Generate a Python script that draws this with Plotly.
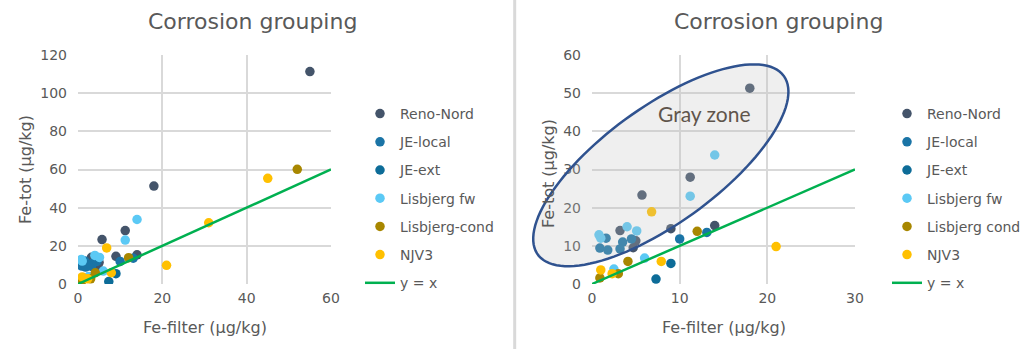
import numpy as np
import plotly.graph_objects as go

# ---------------- data ----------------
series_names = ["Reno-Nord", "JE-local", "JE-ext", "Lisbjerg fw", "Lisbjerg-cond", "NJV3"]
series_names_right = ["Reno-Nord", "JE-local", "JE-ext", "Lisbjerg fw", "Lisbjerg cond", "NJV3"]

reno_x = [55.0, 18.0, 5.7, 11.2, 3.2, 9.0, 14.0, 5.0, 4.7]
reno_y = [111.3, 51.3, 23.3, 28.0, 14.0, 14.5, 15.3, 11.3, 9.5]

je_local_x = [1.6, 0.9, 1.8, 3.5, 3.2, 4.5, 10.0, 13.1]
je_local_y = [12.0, 9.4, 8.9, 11.0, 9.2, 11.8, 11.8, 13.5]

je_ext_x = [7.3, 9.0]
je_ext_y = [1.3, 5.4]

lisb_fw_x = [0.8, 1.0, 4.0, 5.1, 2.5, 6.0, 11.2, 14.0]
lisb_fw_y = [12.9, 12.0, 15.0, 13.9, 3.9, 6.8, 23.0, 33.8]

lisb_cond_x = [0.9, 3.0, 4.1, 12.0, 52.0]
lisb_cond_y = [1.6, 2.7, 5.9, 13.8, 60.1]

njv3_x = [1.0, 2.3, 6.8, 7.9, 21.0, 31.0, 45.0]
njv3_y = [3.7, 2.7, 18.9, 5.9, 9.8, 32.1, 55.4]

line_left_x = [0, 60]
line_left_y = [0, 60]
line_right_x = [0, 30]
line_right_y = [0, 30]

left_xticks = [0, 20, 40, 60]
left_yticks = [0, 20, 40, 60, 80, 100, 120]
right_xticks = [0, 10, 20, 30]
right_yticks = [0, 10, 20, 30, 40, 50, 60]

colors = ["#44546A", "#1A74A6", "#0D6C98", "#5BC9F5", "#A88700", "#FFC000"]
line_color = "#00B050"

# ---------------- layout geometry ----------------
W, H = 1024, 349
L_X0, L_X1 = 78, 331
R_X0, R_X1 = 592, 855
P_TOP, P_BOT = 55, 284

FONT = "DejaVu Sans"
TXT = "#595959"
GRID = "#D9D9D9"

all_x = [reno_x, je_local_x, je_ext_x, lisb_fw_x, lisb_cond_x, njv3_x]
all_y = [reno_y, je_local_y, je_ext_y, lisb_fw_y, lisb_cond_y, njv3_y]

fig = go.Figure()

for i in range(6):
    fig.add_trace(go.Scatter(
        x=all_x[i], y=all_y[i], mode="markers", name=series_names[i],
        marker=dict(color=colors[i], size=9.5), xaxis="x", yaxis="y",
        legend="legend", legendgroup="L%d" % i))
fig.add_trace(go.Scatter(
    x=line_left_x, y=line_left_y, mode="lines", name="y = x",
    line=dict(color=line_color, width=2.5), xaxis="x", yaxis="y",
    legend="legend", legendgroup="L6"))

for i in range(6):
    fig.add_trace(go.Scatter(
        x=all_x[i], y=all_y[i], mode="markers", name=series_names_right[i],
        marker=dict(color=colors[i], size=9.5), xaxis="x2", yaxis="y2",
        legend="legend2", legendgroup="R%d" % i))
fig.add_trace(go.Scatter(
    x=line_right_x, y=line_right_y, mode="lines", name="y = x",
    line=dict(color=line_color, width=2.5), xaxis="x2", yaxis="y2",
    legend="legend2", legendgroup="R6"))

ydom = [1 - P_BOT / H, 1 - P_TOP / H]

def ax(domain, rng, ticks, anchor):
    return dict(domain=domain, range=rng, tickvals=ticks, anchor=anchor,
                showgrid=True, gridcolor=GRID, gridwidth=1.5,
                zeroline=False, showline=False, ticks="",
                tickfont=dict(family=FONT, size=14, color=TXT),
                fixedrange=True, automargin=False)

xa = ax([L_X0 / W, L_X1 / W], [0, 60], left_xticks, "y")
ya = ax(ydom, [0, 120], left_yticks, "x")
xa2 = ax([R_X0 / W, R_X1 / W], [0, 30], right_xticks, "y2")
ya2 = ax(ydom, [0, 60], right_yticks, "x2")
ya["ticklabelstandoff"] = 10
ya2["ticklabelstandoff"] = 10
xa["ticklabelstandoff"] = 4
xa2["ticklabelstandoff"] = 4

# gray-zone ellipse (pixel geometry -> paper coords)
def x2px(v):
    return R_X0 + (v - 0) / 30.0 * (R_X1 - R_X0)

def y2px(v):
    return P_BOT - (v - 0) / 60.0 * (P_BOT - P_TOP)

ell_cx, ell_cy = 7.85, 31.1          # centre in right-chart data units
ell_a, ell_b, ell_ang = 152, 58, 36  # semi-axes in px, tilt in degrees
cxp, cyp = x2px(ell_cx), y2px(ell_cy)
t = np.linspace(0, 2 * np.pi, 120)
th = np.deg2rad(ell_ang)
ex = cxp + ell_a * np.cos(t) * np.cos(th) - ell_b * np.sin(t) * np.sin(th)
ey = cyp - (ell_a * np.cos(t) * np.sin(th) + ell_b * np.sin(t) * np.cos(th))
path = "M " + " L ".join("%.5f,%.5f" % (px / W, 1 - py / H) for px, py in zip(ex, ey)) + " Z"

shapes = [
    dict(type="line", xref="paper", yref="paper", x0=514.7 / W, x1=514.7 / W, y0=0, y1=1,
         line=dict(color="#D9D9D9", width=3)),
    dict(type="path", xref="paper", yref="paper", path=path, layer="above",
         fillcolor="rgba(191,191,191,0.25)", line=dict(color="#2F528F", width=2.5)),
]

annotations = [
    dict(text="Corrosion grouping", xref="paper", yref="paper", x=252 / W, y=1 - 22 / H,
         showarrow=False, xanchor="center", yanchor="middle",
         font=dict(family=FONT, size=22, color=TXT)),
    dict(text="Corrosion grouping", xref="paper", yref="paper", x=778 / W, y=1 - 22 / H,
         showarrow=False, xanchor="center", yanchor="middle",
         font=dict(family=FONT, size=22, color=TXT)),
    dict(text="Fe-filter (μg/kg)", xref="paper", yref="paper", x=(L_X0 + L_X1) / 2 / W, y=1 - 327 / H,
         showarrow=False, xanchor="center", yanchor="middle",
         font=dict(family=FONT, size=16, color=TXT)),
    dict(text="Fe-filter (μg/kg)", xref="paper", yref="paper", x=(R_X0 + R_X1) / 2 / W, y=1 - 327 / H,
         showarrow=False, xanchor="center", yanchor="middle",
         font=dict(family=FONT, size=16, color=TXT)),
    dict(text="Fe-tot (μg/kg)", xref="paper", yref="paper", x=25 / W, y=1 - 170 / H,
         showarrow=False, xanchor="center", yanchor="middle", textangle=-90,
         font=dict(family=FONT, size=16, color=TXT)),
    dict(text="Fe-tot (μg/kg)", xref="paper", yref="paper", x=548 / W, y=1 - 174 / H,
         showarrow=False, xanchor="center", yanchor="middle", textangle=-90,
         font=dict(family=FONT, size=16, color=TXT)),
    dict(text="Gray zone", xref="x2", yref="y2", x=12.8, y=44.6,
         showarrow=False, xanchor="center", yanchor="middle",
         font=dict(family="Lato", size=21, color="#5F554B")),
]

leg_common = dict(xref="paper", yref="paper", xanchor="left", yanchor="top",
                  bgcolor="rgba(0,0,0,0)", borderwidth=0, tracegroupgap=7,
                  font=dict(family=FONT, size=14, color=TXT))

fig.update_layout(
    width=W, height=H,
    margin=dict(l=0, r=0, t=0, b=0, autoexpand=False),
    paper_bgcolor="white", plot_bgcolor="white",
    xaxis=xa, yaxis=ya, xaxis2=xa2, yaxis2=ya2,
    shapes=shapes, annotations=annotations,
    legend=dict(x=360 / W, y=1 - 98 / H, **leg_common),
    legend2=dict(x=887 / W, y=1 - 98 / H, **leg_common),
    showlegend=True,
)

fig.write_html("out.html")
